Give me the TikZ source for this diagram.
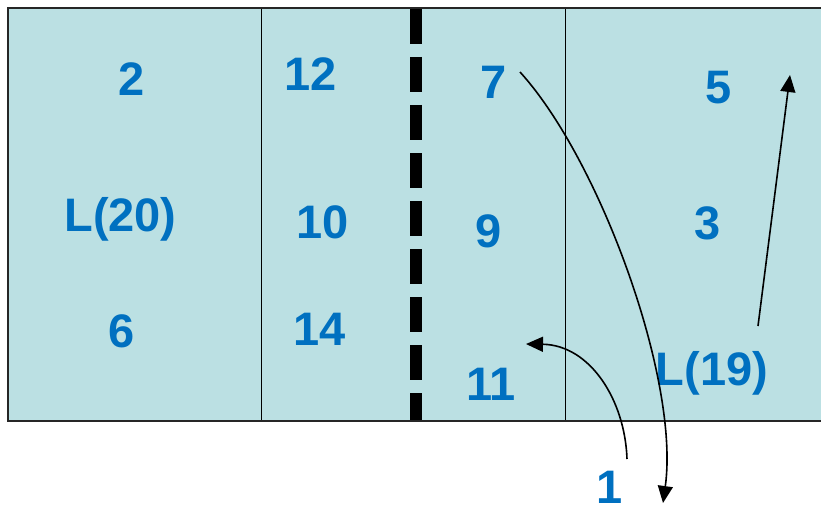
\documentclass[tikz,border=0pt]{standalone}
\usepackage{fontspec}
\setmainfont{Liberation Sans}
\usetikzlibrary{arrows.meta}
\definecolor{courtfill}{HTML}{BBE0E3}
\definecolor{numblue}{HTML}{0070C0}
\tikzset{
  num/.style={anchor=base, text=numblue, font=\fontsize{47}{50}\selectfont\bfseries, inner sep=0pt},
  mover/.style={line width=1.6pt, -{Triangle[length=17pt,width=15pt]}},
  thinline/.style={line width=1pt, draw=black},
  border/.style={line width=2pt, draw=black!85},
  netline/.style={line width=12pt, dash pattern=on 35pt off 13pt, draw=black}
}
\begin{document}
\begin{tikzpicture}[x=1pt,y=-1pt]
\useasboundingbox (0,0) rectangle (821,508);
\fill[courtfill] (7.5,8.5) rectangle (821,420.5);
\draw[thinline] (261,8.5) -- (261,420.5);
\draw[thinline] (565,8.5) -- (565,420.5);
\draw[netline] (415.5,9) -- (415.5,420.5);
\draw[border] (821,8.5) -- (7.5,8.5) -- (7.5,420.5) -- (821,420.5);
% numbers
\node[num] (n2) at (131.5,96) {2};
\node[num] (nL20) at (120.5,231) {L(20)};
\node[num] (n6) at (122,347) {6};
\node[num] (n12) at (311,91) {12};
\node[num] (n10) at (323,238) {10};
\node[num] (n14) at (320,345) {14};
\node[num] (n7) at (494,99) {7};
\node[num] (n9) at (489,247) {9};
\node[num] (n11) at (491,400) {11};
\node[num] (n5) at (719,104) {5};
\node[num] (n3) at (708,239) {3};
\node[num] (nL19) at (712,385) {L(19)};
\node[num] (n1) at (610,503) {1};
% arrow end points
\coordinate (a1s) at (520,72);
\coordinate (a1e) at (663,503);
\coordinate (a2s) at (627,459);
\coordinate (a2e) at (526,344);
\coordinate (a3s) at (758,326);
\coordinate (a3e) at (790,75);
\draw[mover] (a1s) .. controls (600,160) and (680,380) .. (a1e);
\draw[mover] (a2s) .. controls (625,400) and (590,345) .. (a2e);
\draw[mover] (a3s) -- (a3e);
\end{tikzpicture}
\end{document}
